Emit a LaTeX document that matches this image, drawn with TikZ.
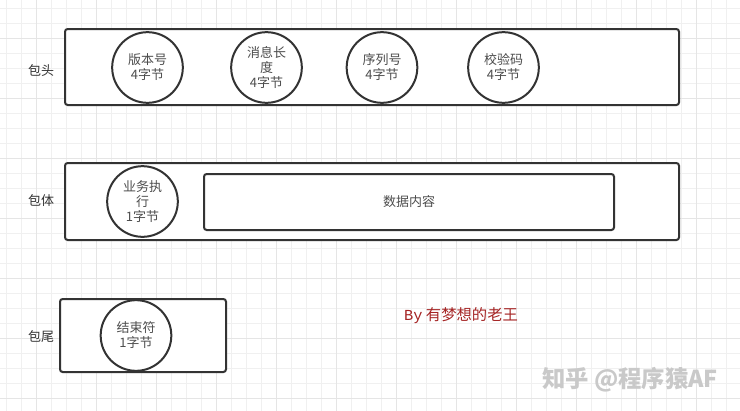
\documentclass[tikz,border=0pt]{standalone}
\usepackage{fontspec}
\usepackage{tikz}
\setmainfont{Noto Sans CJK SC}
\newfontfamily\monofont{Liberation Mono}
\definecolor{edge}{HTML}{333333}
\definecolor{ink}{HTML}{4D4D4D}
\definecolor{sign}{HTML}{A52424}
\tikzstyle{field}=[circle, draw=edge, line width=1.5pt, fill=white, text=ink, minimum size=53pt, inner sep=0pt, align=center, font=\fontsize{9.75}{11.25}\selectfont]
\tikzstyle{frame}=[draw=edge, line width=1.5pt, fill=white, rounded corners=2pt]
\tikzstyle{part}=[text=edge, font=\fontsize{9.75}{11}\selectfont]

\begin{document}
\begin{tikzpicture}[x=0.75pt, y=-0.75pt]
                    \useasboundingbox (0,0) rectangle (740,411);
                    \fill[white] (0,0) rectangle (740,411);
                    % grid
                    \foreach \gx in {6.7,21.7,...,740} \draw[gray!12, line width=0.5pt] (\gx,0) -- (\gx,411);
                    \foreach \gy in {8.3,23.3,...,411} \draw[gray!12, line width=0.5pt] (0,\gy) -- (740,\gy);
                    \foreach \gx in {36.7,96.7,...,740} \draw[gray!20, line width=0.6pt] (\gx,0) -- (\gx,411);
                    \foreach \gy in {38.3,98.3,...,411} \draw[gray!20, line width=0.6pt] (0,\gy) -- (740,\gy);

                    % header
                    \node[part] (lhead) at (41, 70) {包头};
                    \draw[frame] (65,29) rectangle (679,105);
                    \node[field] (ver) at (147.5,67.5) {版本号\\4字节};
                    \node[field] (len) at (266.5,67.5) {消息长\\度\\4字节};
                    \node[field] (seq) at (382,67.5) {序列号\\4字节};
                    \node[field] (chk) at (503.5,67.5) {校验码\\4字节};

                    % body
                    \node[part] (lbody) at (41, 201) {包体};
                    \draw[frame] (65,163) rectangle (679,240);
                    \node[field] (op) at (142.5,201.5) {业务执\\行\\1字节};
                    \node[frame, minimum width=307.5pt, minimum height=42pt, text=ink,
                          font=\fontsize{9.75}{11}\selectfont] (data) at (409,202) {数据内容};

                    % tail
                    \node[part] (ltail) at (41, 337) {包尾};
                    \draw[frame] (60,299) rectangle (226,372);
                    \node[field] (end) at (136,335.5) {结束符\\1字节};

                    \node[text=sign, font=\fontsize{11.5}{13}\selectfont] (by) at (461,316) {{\monofont By} 有梦想的老王};
                    \node[text=gray!42, font=\fontsize{17.5}{19}\selectfont\bfseries] (mark) at (630,380) {知乎 @程序猿AF};
                \end{tikzpicture}
\end{document}
